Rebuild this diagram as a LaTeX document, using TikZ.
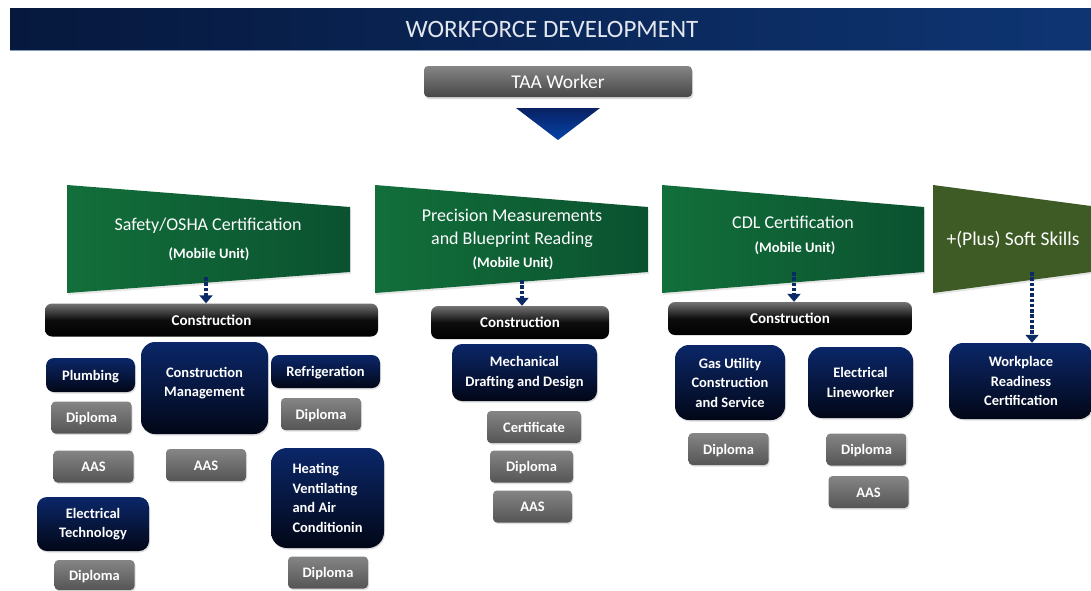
\documentclass[tikz,border=0pt]{standalone}
\usepackage{fontspec}
\setmainfont{Carlito}
\usetikzlibrary{arrows.meta,positioning,shadows}

\definecolor{navyL}{HTML}{06183D}
\definecolor{navyR}{HTML}{0E3573}
\definecolor{headText}{HTML}{E2E6EE}
\definecolor{triTop}{HTML}{0A2263}
\definecolor{triBot}{HTML}{0343A8}
\definecolor{trapGreenL}{HTML}{126F3A}
\definecolor{trapGreenR}{HTML}{0B5230}
\definecolor{oliveGreen}{HTML}{3E5B26}
\definecolor{progTop}{HTML}{0B2769}
\definecolor{progBot}{HTML}{020717}
\definecolor{grayTop}{HTML}{858585}
\definecolor{grayBot}{HTML}{555555}
\definecolor{arrowNavy}{HTML}{0B2A66}

\tikzset{
  headtext/.style={text=headText, font=\fontsize{25}{29}\selectfont},
  entrybox/.style={rounded corners=4pt, top color=grayTop, bottom color=black!72,
    text=white, font=\fontsize{19.5}{23}\selectfont,
    minimum width=268, minimum height=31,
    drop shadow={shadow xshift=1pt, shadow yshift=-2pt, opacity=0.3}},
  traptitle/.style={text=white, font=\fontsize{18}{21}\selectfont, align=center},
  trapsub/.style={text=white, font=\fontsize{14.5}{17}\selectfont\bfseries},
  sectorbar/.style={rounded corners=7pt, top color=black!55, bottom color=black,
    middle color=black!95, text=white, font=\fontsize{15}{18}\selectfont\bfseries,
    text height=12pt, text depth=2pt, minimum height=33},
  oneline/.style={text height=12pt, text depth=2pt},
  progtext/.style={text=white, align=center, font=\fontsize{14.5}{19.5}\selectfont\bfseries},
  progbox/.style={progtext, rounded corners=8pt, top color=progTop, bottom color=progBot,
    inner sep=2pt, drop shadow={shadow xshift=1pt, shadow yshift=-1.5pt, opacity=0.25}},
  awardbox/.style={oneline, rounded corners=4pt, top color=grayTop, bottom color=grayBot,
    text=white, font=\fontsize{14.5}{17}\selectfont\bfseries,
    minimum width=80, minimum height=32,
    drop shadow={shadow xshift=1pt, shadow yshift=-1.5pt, opacity=0.25}},
  flow/.style={arrowNavy, line width=3.5pt, dash pattern=on 3.5pt off 1.8pt,
    -{Triangle[width=13pt,length=8pt]}}
}

\begin{document}
\begin{tikzpicture}[x=1pt, y=-1pt]
    \useasboundingbox (0,0) rectangle (1091,590);

    % Header bar
    \shade[left color=navyL, right color=navyR] (10,8) rectangle (1091,50);
    \draw[navyR!50!white, line width=1pt] (10,50) -- (1091,50);
    \node[headtext] (title) at (552,29) {WORKFORCE DEVELOPMENT};

    % Entry point and down arrow
    \node[entrybox] (taa) at (558,81.5) {TAA Worker};
    \shade[top color=triTop, bottom color=triBot] (516,108) -- (600,108) -- (558,140) -- cycle;

    % Training tracks (green banners)
    \foreach \xl/\xr in {67/350, 375/648, 662/924} {
        \shade[left color=trapGreenL, right color=trapGreenR,
               drop shadow={shadow xshift=1pt, shadow yshift=-2pt, opacity=0.2}]
            (\xl,185) -- (\xr,207) -- (\xr,272) -- (\xl,293) -- cycle;
    }
    \fill[oliveGreen, drop shadow={shadow xshift=1pt, shadow yshift=-2pt, opacity=0.2}]
        (933,185) -- (1091,206) -- (1091,272) -- (933,293) -- cycle;

    \node[traptitle] (safetyTitle) at (208,226) {Safety/OSHA Certification};
    \node[trapsub] (safetySub) at (209,254) {(Mobile Unit)};
    \node[traptitle] (blueprintTitle) at (512,228) {Precision Measurements\\[2pt]and Blueprint Reading};
    \node[trapsub] (blueprintSub) at (513,263) {(Mobile Unit)};
    \node[traptitle] (cdlTitle) at (793,222) {CDL Certification};
    \node[trapsub] (cdlSub) at (795,248) {(Mobile Unit)};
    \node[traptitle, font=\fontsize{19.5}{23}\selectfont] (skillsTitle) at (1013,240) {+(Plus) Soft Skills};

    \coordinate (safetyTail) at (206,277);
    \coordinate (blueprintTail) at (522,280);
    \coordinate (cdlTail) at (794,272);
    \coordinate (skillsTail) at (1032,272);

    % Sector bars
    \node[sectorbar, minimum width=333] (safetySector) at (211.5,320) {Construction};
    \node[sectorbar, minimum width=178] (blueprintSector) at (520,322.5) {Construction};
    \node[sectorbar, minimum width=244] (cdlSector) at (790,318.5) {Construction};

    \draw[flow] (safetyTail) -- (safetyTail |- safetySector.north);
    \draw[flow] (blueprintTail) -- (blueprintTail |- blueprintSector.north);
    \draw[flow] (cdlTail) -- (cdlTail |- cdlSector.north);

    % Programs
    \node[progbox, oneline, minimum width=89, minimum height=34] (plumbing) at (90.5,375) {Plumbing};
    \node[progbox, rounded corners=14pt, minimum width=127, minimum height=92] (cmBox) at (204.5,388) {};
    \node[progtext] (cmText) at (204.5,383) {Construction\\Management};
    \node[progbox, oneline, minimum width=109, minimum height=33] (refrigeration) at (325.5,371.5) {Refrigeration};
    \node[progbox, rounded corners=10pt, minimum width=112, minimum height=54] (elecTech) at (93,524) {Electrical\\Technology};
    \node[progbox, rounded corners=16pt, align=left, minimum width=113, minimum height=100] (hvac) at (327.5,498) {Heating\\Ventilating\\and Air\\Conditionin};
    \node[progbox, rounded corners=10pt, minimum width=145, minimum height=57] (mechDesign) at (524.5,372.5) {Mechanical\\Drafting and Design};
    \node[progbox, rounded corners=14pt, minimum width=110, minimum height=75] (gasUtility) at (730,382.5) {Gas Utility\\Construction\\and Service};
    \node[progbox, rounded corners=14pt, minimum width=105, minimum height=71] (lineworker) at (860.5,382.5) {Electrical\\Lineworker};
    \node[progbox, rounded corners=14pt, minimum width=144, minimum height=76] (readiness) at (1021,381) {Workplace\\Readiness\\Certification};

    \draw[flow] (skillsTail) -- (skillsTail |- readiness.north);

    % Awards
    \node[awardbox] (plumbingDiploma) at (91.5,417.5) {Diploma};
    \node[awardbox] (plumbingAAS) at (93.5,466.5) {AAS};
    \node[awardbox] (cmAAS) at (206,465) {AAS};
    \node[awardbox] (refrigerationDiploma) at (321,414) {Diploma};
    \node[awardbox, minimum height=30] (elecTechDiploma) at (94.5,575) {Diploma};
    \node[awardbox] (hvacDiploma) at (328,572.5) {Diploma};
    \node[awardbox, minimum width=94] (mechCertificate) at (534,427) {Certificate};
    \node[awardbox, minimum width=83] (mechDiploma) at (531.5,466.5) {Diploma};
    \node[awardbox, minimum width=79] (mechAAS) at (532.5,506.5) {AAS};
    \node[awardbox] (gasDiploma) at (728.5,449) {Diploma};
    \node[awardbox] (lineworkerDiploma) at (866.5,449.5) {Diploma};
    \node[awardbox] (lineworkerAAS) at (868.5,492) {AAS};
\end{tikzpicture}
\end{document}
